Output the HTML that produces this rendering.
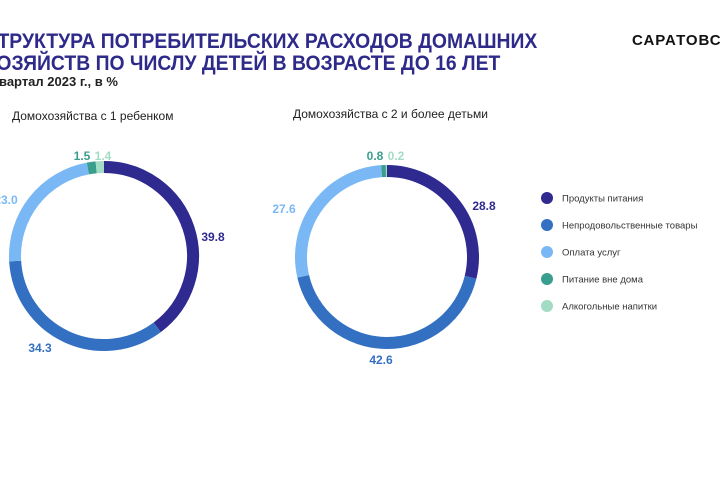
<!DOCTYPE html>
<html><head><meta charset="utf-8"><style>
body{margin:0;width:720px;height:480px;background:#fff;overflow:hidden;font-family:"Liberation Sans",sans-serif;position:relative}
.t{position:absolute;white-space:nowrap}
</style></head><body>
<div class="t" style="left:-16px;top:30px;font-size:21.5px;font-weight:bold;color:#2e2a8a;line-height:22px;transform:scaleX(0.9);transform-origin:left">СТРУКТУРА ПОТРЕБИТЕЛЬСКИХ РАСХОДОВ ДОМАШНИХ<br>ХОЗЯЙСТВ ПО ЧИСЛУ ДЕТЕЙ В ВОЗРАСТЕ ДО 16 ЛЕТ</div>
<div class="t" style="left:-1px;top:74px;font-size:13px;font-weight:bold;color:#222">вартал 2023 г., в %</div>
<div class="t" style="left:632px;top:32px;font-size:15px;font-weight:bold;color:#111;letter-spacing:1px">САРАТОВС</div>
<div class="t" style="left:12px;top:109px;font-size:12px;color:#222">Домохозяйства с 1 ребенком</div>
<div class="t" style="left:293px;top:107px;font-size:12px;color:#222">Домохозяйства с 2 и более детьми</div>
<svg id="s" width="720" height="480" style="position:absolute;left:0;top:0"></svg>
<script>
const categories=["Продукты питания","Непродовольственные товары","Оплата услуг","Питание вне дома","Алкогольные  напитки"];
const colors=["#2f2a8f","#3370c2","#7ab8f5","#3a9e8e","#a3dcc4"];
const seriesOne=[39.8,34.3,23.0,1.5,1.4];
const seriesTwo=[28.8,42.6,27.6,0.8,0.2];
const labelsOne=["39.8","34.3","23.0","1.5","1.4"];
const labelsTwo=["28.8","42.6","27.6","0.8","0.2"];
const NS="http://www.w3.org/2000/svg";
const svg=document.getElementById('s');
function donut(vals,labs,cx,cy,r,w,labelPos,name){
  const tot=vals.reduce((a,b)=>a+b,0);let a0=0;
  vals.forEach((v,i)=>{
    const a1=a0+v/tot*2*Math.PI;
    const p=(a)=>[cx+r*Math.sin(a),cy-r*Math.cos(a)];
    const [x0,y0]=p(a0),[x1,y1]=p(a1);
    const path=document.createElementNS(NS,'path');
    path.setAttribute('d',`M${x0},${y0}A${r},${r} 0 ${a1-a0>Math.PI?1:0} 1 ${x1},${y1}`);
    path.setAttribute('fill','none');path.setAttribute('stroke',colors[i]);path.setAttribute('stroke-width',w);
    
    
    svg.appendChild(path);
    const t=document.createElementNS(NS,'text');
    const lp=labelPos[i];
    t.setAttribute('x',lp[0]);t.setAttribute('y',lp[1]);
    t.setAttribute('font-size','12');t.setAttribute('font-weight','bold');
    t.setAttribute('font-family','Liberation Sans, sans-serif');
    t.setAttribute('fill',colors[i]);
    t.setAttribute('text-anchor','middle');
    t.textContent=labs[i];
    
    
    svg.appendChild(t);
    a0=a1;
  });
}
donut(seriesOne,labelsOne,104,256,89,12,[[213,241],[40,352],[6,204],[82,160],[103,160]],'donut-one');
donut(seriesTwo,labelsTwo,387,257,86,12,[[484,210],[381,364],[284,213],[375,160],[396,160]],'donut-two');
categories.forEach((c,i)=>{
  const y=198+i*27;
  const ci=document.createElementNS(NS,'circle');
  ci.setAttribute('cx',547);ci.setAttribute('cy',y);ci.setAttribute('r',6);ci.setAttribute('fill',colors[i]);
  
  
  svg.appendChild(ci);
  const t=document.createElementNS(NS,'text');
  t.setAttribute('x',562);t.setAttribute('y',y+3.5);t.setAttribute('font-size','9.5');
  t.setAttribute('font-family','Liberation Sans, sans-serif');t.setAttribute('fill','#333');
  t.textContent=c;
  
  
  svg.appendChild(t);
});
</script>
</body></html>
